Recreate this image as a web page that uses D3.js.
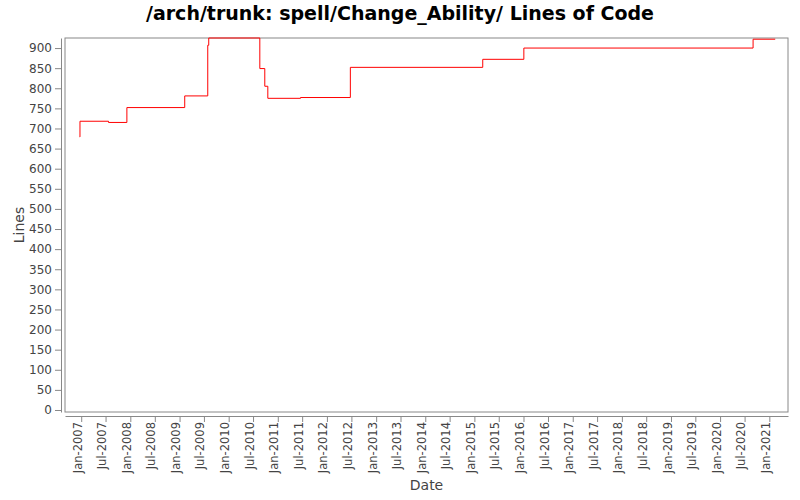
<!DOCTYPE html>
<html><head><meta charset="utf-8">
<script src="https://cdn.jsdelivr.net/npm/d3@7"></script>
<style>body{margin:0;background:#fff;font-family:"DejaVu Sans",sans-serif}</style>
</head><body><div id="chart"></div>
<script>
// decimal years where the count changes, and the count from that date on
const years = [2006.97, 2006.975, 2007.556, 2007.93, 2009.105, 2009.574, 2009.594, 2010.634, 2010.735, 2010.797, 2011.463, 2012.476, 2015.17, 2016.007, 2020.67, 2021.12];
const lines = [679, 718, 715, 752, 781, 907, 925, 849, 805, 775, 777, 852, 872, 900, 922, 922];
const yTicks = d3.range(0, 901, 50);

function toDate(y) {
  const yr = Math.floor(y);
  const s = new Date(yr, 0, 1), e = new Date(yr + 1, 0, 1);
  return new Date(+s + (y - yr) * (e - s));
}
const pts = years.map((y, i) => ({ d: toDate(y), v: lines[i] }));

const W = 800, H = 500, m = { l: 65, r: 12, t: 38, b: 88 };
const svg = d3.select("#chart").append("svg").attr("width", W).attr("height", H);

svg.append("text").attr("x", W / 2).attr("y", 20).attr("text-anchor", "middle")
  .attr("font-size", 19).attr("font-weight", "bold").text("/arch/trunk: spell/Change_Ability/ Lines of Code");

const x = d3.scaleTime().domain([toDate(2006.67), toDate(2021.38)]).range([m.l, W - m.r]);
const y = d3.scaleLinear().domain([-5, 925]).range([H - m.b, m.t]);

svg.append("rect").attr("x", m.l).attr("y", m.t).attr("width", W - m.l - m.r).attr("height", H - m.t - m.b)
  .attr("fill", "none").attr("stroke", "#888");

const xTicks = [];
for (let yr = 2007; yr <= 2021; yr++) { xTicks.push(new Date(yr, 0, 1)); if (yr < 2021) xTicks.push(new Date(yr, 6, 1)); }
const fmt = d3.timeFormat("%b-%Y");

const gx = svg.append("g").attr("transform", `translate(0,${H - m.b + 4})`)
  .call(d3.axisBottom(x).tickValues(xTicks).tickFormat(fmt).tickSizeOuter(0));
gx.selectAll("text").attr("transform", "rotate(-90)").attr("text-anchor", "end")
  .attr("x", -6).attr("y", -4).attr("dy", "0.35em").attr("font-size", 11.5).attr("fill", "#444");

const gy = svg.append("g").attr("transform", `translate(${m.l - 4},0)`)
  .call(d3.axisLeft(y).tickValues(yTicks).tickSizeOuter(0));
gy.selectAll("text").attr("font-size", 12).attr("fill", "#444");
[gx, gy].forEach(g => { g.selectAll("line,path").attr("stroke", "#888"); g.attr("font-family", "DejaVu Sans"); });

svg.append("path").datum(pts)
  .attr("d", d3.line().x(d => x(d.d)).y(d => y(d.v)).curve(d3.curveStepAfter))
  .attr("fill", "none").attr("stroke", "red").attr("stroke-width", 1);

svg.append("text").attr("x", (m.l + W - m.r) / 2).attr("y", 490).attr("text-anchor", "middle")
  .attr("font-size", 14).attr("fill", "#444").text("Date");
svg.append("text").attr("transform", `translate(24,${(m.t + H - m.b) / 2}) rotate(-90)`).attr("text-anchor", "middle")
  .attr("font-size", 14).attr("fill", "#444").text("Lines");
</script></body></html>
